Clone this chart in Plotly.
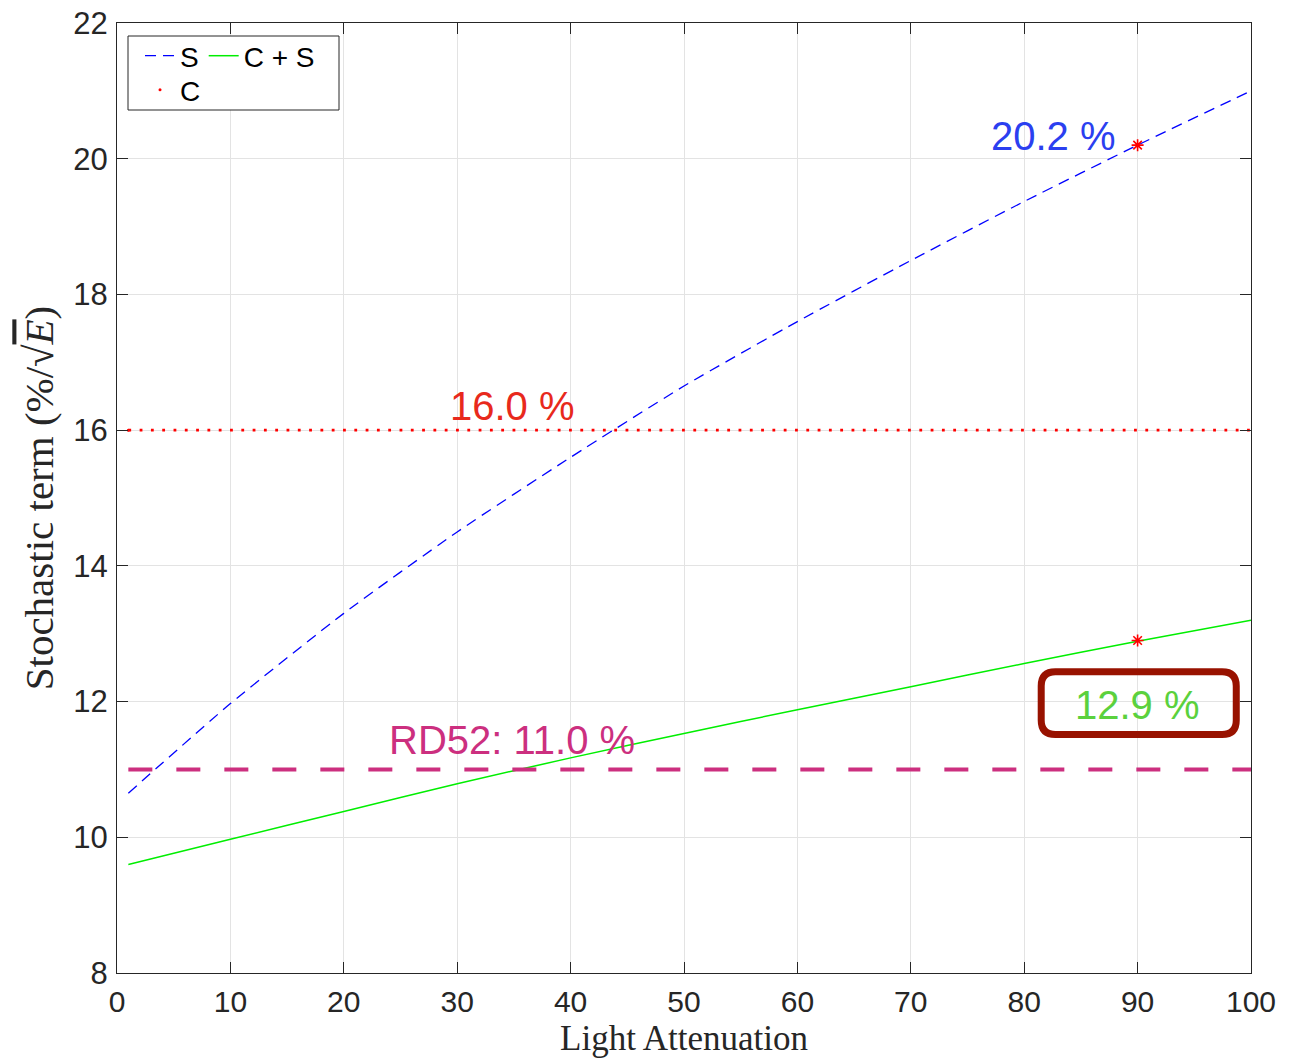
import plotly.graph_objects as go

# Light attenuation sample points and the stochastic-term curves read at them
attenuation = [1, 10, 20, 30, 40, 50, 60, 70, 80, 90, 100]
s_term = [10.65, 11.97, 13.30, 14.50, 15.60, 16.65, 17.60, 18.50, 19.37, 20.20, 21.00]
cs_term = [9.60, 9.97, 10.38, 10.79, 11.17, 11.53, 11.88, 12.22, 12.56, 12.89, 13.20]

# Constant levels
c_level = 16.0
rd52_level = 11.0
level_span = [1, 100]

# Highlighted points at 90 attenuation
mark_x = [90, 90]
mark_y = [20.2, 12.9]

x_ticks = [0, 10, 20, 30, 40, 50, 60, 70, 80, 90, 100]
y_ticks = [8, 10, 12, 14, 16, 18, 20, 22]

SANS = "Liberation Sans, Arial, Helvetica, sans-serif"
SERIF = "Liberation Serif, Times New Roman, serif"
AXIS_COL = "#262626"

fig = go.Figure()

fig.add_trace(go.Scatter(
    x=attenuation, y=s_term, mode="lines", name="S",
    line=dict(color="#0000ff", width=1.3, dash="11px,7px", shape="spline", smoothing=0.6),
    legend="legend",
))
fig.add_trace(go.Scatter(
    x=attenuation, y=cs_term, mode="lines", name="C + S",
    line=dict(color="#00ee00", width=1.5, shape="spline", smoothing=0.6),
    legend="legend",
))
fig.add_trace(go.Scatter(
    x=level_span, y=[c_level, c_level], mode="lines", name="C",
    line=dict(color="#ff0000", width=2.8, dash="2.8px,8.5px"),
    showlegend=False,
))
# single red dot used as the legend key for C
fig.add_trace(go.Scatter(
    x=[level_span[0]], y=[c_level], mode="markers", name="C",
    marker=dict(color="#ff0000", size=3),
    legend="legend2",
))
fig.add_trace(go.Scatter(
    x=level_span, y=[rd52_level, rd52_level], mode="lines", name="RD52",
    line=dict(color="#cc2f7f", width=4, dash="24px,24px"),
    showlegend=False,
))
fig.add_trace(go.Scatter(
    x=mark_x, y=mark_y, mode="markers", showlegend=False,
    marker=dict(symbol="asterisk-open", size=10, color="#ff0000",
                line=dict(color="#ff0000", width=1.6)),
))

# rounded frame around the combined-value label
bx0, bx1, by0, by1 = 81.5, 98.7, 11.515, 12.44
rx, ry = 1.25, 0.21
frame_path = (
    f"M {bx0 + rx},{by1} L {bx1 - rx},{by1} Q {bx1},{by1} {bx1},{by1 - ry} "
    f"L {bx1},{by0 + ry} Q {bx1},{by0} {bx1 - rx},{by0} "
    f"L {bx0 + rx},{by0} Q {bx0},{by0} {bx0},{by0 + ry} "
    f"L {bx0},{by1 - ry} Q {bx0},{by1} {bx0 + rx},{by1} Z"
)

W, H = 1300, 1058
ml, mr, mt, mb = 117, 49, 23, 85
pw, ph = W - ml - mr, H - mt - mb


def px_x(p):
    return (p - ml) / pw


def px_y(p):
    return (H - mb - p) / ph


shapes = [
    dict(type="path", path=frame_path, xref="x", yref="y",
         line=dict(color="#981200", width=7), layer="above"),
    dict(type="rect", xref="paper", yref="paper",
         x0=px_x(128), x1=px_x(339), y0=px_y(110), y1=px_y(36),
         line=dict(color=AXIS_COL, width=1), fillcolor="white", layer="above"),
]

annotations = [
    dict(x=82.6, y=20.33, text="20.2 %", font=dict(color="#2b3ff0", size=40, family=SANS)),
    dict(x=34.9, y=16.35, text="16.0 %", font=dict(color="#e8291c", size=40, family=SANS)),
    dict(x=34.85, y=11.43, text="RD52: 11.0 %", font=dict(color="#cc2f7f", size=40, family=SANS)),
    dict(x=90, y=11.95, text="12.9 %", font=dict(color="#5bd13d", size=40, family=SANS)),
]
for a in annotations:
    a.update(xref="x", yref="y", showarrow=False, xanchor="center", yanchor="middle")

axis_common = dict(
    showline=True, mirror="ticks", linecolor=AXIS_COL, linewidth=1.3,
    ticks="inside", ticklen=11, tickwidth=1.3, tickcolor=AXIS_COL,
    showgrid=True, gridcolor="#e3e3e3", gridwidth=1, zeroline=False,
    automargin=False,
)

fig.update_layout(
    width=W, height=H,
    margin=dict(l=ml, r=mr, t=mt, b=mb),
    paper_bgcolor="white", plot_bgcolor="white",
    xaxis=dict(range=[0, 100], tickvals=x_ticks, ticklabelstandoff=2,
               tickfont=dict(family=SANS, size=30, color=AXIS_COL),
               title=dict(text="Light Attenuation", standoff=15,
                          font=dict(family=SERIF, size=35, color=AXIS_COL)),
               **axis_common),
    yaxis=dict(range=[8, 22], tickvals=y_ticks, ticklabelstandoff=2,
               tickfont=dict(family=SANS, size=31, color=AXIS_COL),
               title=dict(text="Stochastic term (%/√<span style=\"text-decoration:overline\"><i>E</i></span>)",
                          standoff=6,
                          font=dict(family=SERIF, size=41, color=AXIS_COL)),
               **axis_common),
    legend=dict(orientation="h", x=px_x(140), y=px_y(31), xanchor="left", yanchor="top",
                bgcolor="rgba(0,0,0,0)", borderwidth=0, itemwidth=30,
                font=dict(family=SANS, size=28, color="black")),
    legend2=dict(orientation="h", x=px_x(140), y=px_y(65), xanchor="left", yanchor="top",
                 bgcolor="rgba(0,0,0,0)", borderwidth=0, itemwidth=30,
                 font=dict(family=SANS, size=28, color="black")),
    shapes=shapes,
    annotations=annotations,
)

fig.write_html("out.html")
